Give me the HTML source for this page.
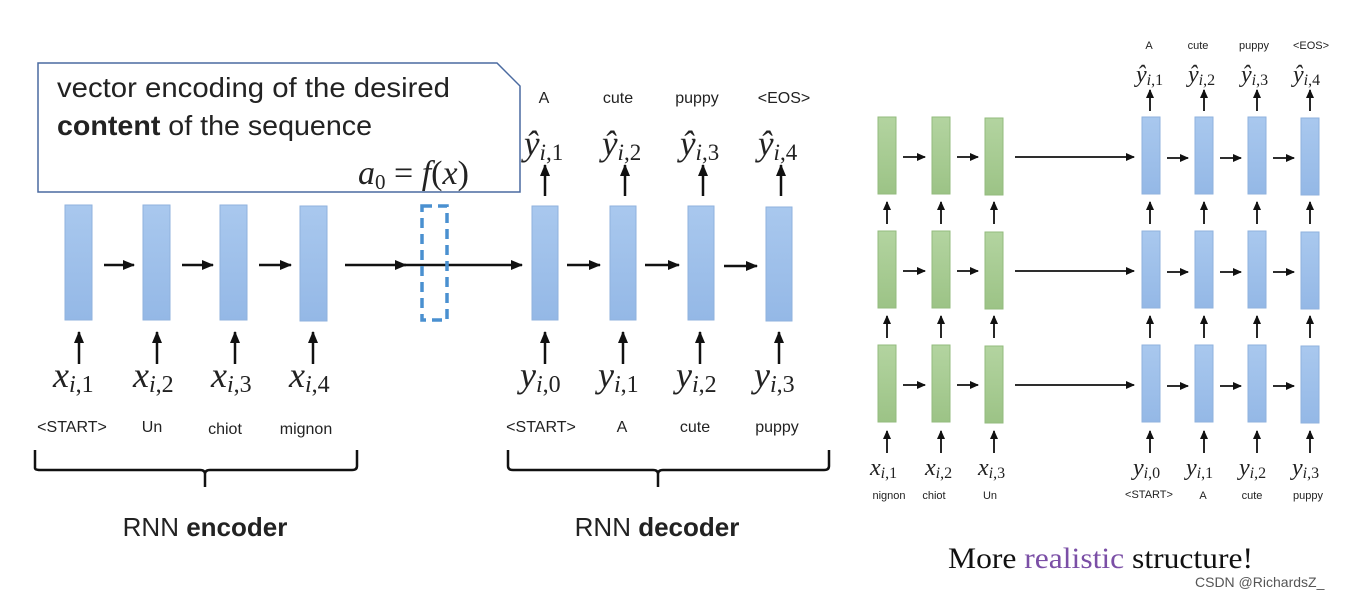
<!DOCTYPE html>
<html><head><meta charset="utf-8"><style>
html,body{margin:0;padding:0;background:#fff;width:1349px;height:598px;overflow:hidden}
svg{display:block}
.s{font-family:"Liberation Sans",sans-serif;fill:#222}
.m{font-family:"Liberation Serif",serif;font-style:italic;fill:#222}
.n{font-style:normal}
</style></head><body>
<svg width="1349" height="598" viewBox="0 0 1349 598" xmlns="http://www.w3.org/2000/svg">
<defs>
<marker id="a" markerUnits="userSpaceOnUse" markerWidth="12" markerHeight="10" refX="11" refY="5" orient="auto"><path d="M0,0 L12,5 L0,10 z" fill="#111"/></marker>
<marker id="b" markerUnits="userSpaceOnUse" markerWidth="9" markerHeight="8" refX="8" refY="4" orient="auto"><path d="M0,0 L9,4 L0,8 z" fill="#111"/></marker>
<linearGradient id="bl" x1="0" y1="0" x2="0" y2="1"><stop offset="0" stop-color="#a9c8ee"/><stop offset="1" stop-color="#94b8e6"/></linearGradient>
<linearGradient id="gr" x1="0" y1="0" x2="0" y2="1"><stop offset="0" stop-color="#b3d4a0"/><stop offset="1" stop-color="#9cc386"/></linearGradient>
</defs>

<!-- callout -->
<path d="M38,63 L497,63 L520,86 L520,192 L38,192 Z" fill="#fff" stroke="#4a6aa0" stroke-width="1.5"/>
<text x="57" y="97" class="s" font-size="28" textLength="393" lengthAdjust="spacingAndGlyphs">vector encoding of the desired</text>
<text x="57" y="135" class="s" font-size="28" textLength="315" lengthAdjust="spacingAndGlyphs"><tspan font-weight="bold">content</tspan> of the sequence</text>
<text x="358" y="184" class="m" font-size="34">a<tspan class="n" font-size="21" dy="5">0</tspan><tspan class="n" dy="-5"> = </tspan>f<tspan class="n">(</tspan>x<tspan class="n">)</tspan></text>

<g stroke="#111" stroke-width="2.5" fill="none">
<line x1="104" y1="265" x2="134" y2="265" marker-end="url(#a)"/>
<line x1="182" y1="265" x2="213" y2="265" marker-end="url(#a)"/>
<line x1="259" y1="265" x2="291" y2="265" marker-end="url(#a)"/>
<line x1="345" y1="265" x2="406" y2="265" marker-end="url(#a)"/>
<line x1="400" y1="265" x2="522" y2="265" marker-end="url(#a)"/>
<line x1="567" y1="265" x2="600" y2="265" marker-end="url(#a)"/>
<line x1="645" y1="265" x2="679" y2="265" marker-end="url(#a)"/>
<line x1="724" y1="266" x2="757" y2="266" marker-end="url(#a)"/>
<line x1="79" y1="364" x2="79" y2="332" marker-end="url(#a)"/>
<line x1="157" y1="364" x2="157" y2="332" marker-end="url(#a)"/>
<line x1="235" y1="364" x2="235" y2="332" marker-end="url(#a)"/>
<line x1="313" y1="364" x2="313" y2="332" marker-end="url(#a)"/>
<line x1="545" y1="364" x2="545" y2="332" marker-end="url(#a)"/>
<line x1="623" y1="364" x2="623" y2="332" marker-end="url(#a)"/>
<line x1="700" y1="364" x2="700" y2="332" marker-end="url(#a)"/>
<line x1="779" y1="364" x2="779" y2="332" marker-end="url(#a)"/>
<line x1="545" y1="196" x2="545" y2="165" marker-end="url(#a)"/>
<line x1="625" y1="196" x2="625" y2="165" marker-end="url(#a)"/>
<line x1="703" y1="196" x2="703" y2="165" marker-end="url(#a)"/>
<line x1="781" y1="196" x2="781" y2="165" marker-end="url(#a)"/>
</g>

<g fill="url(#bl)" stroke="#8fb2de" stroke-width="1">
<rect x="65" y="205" width="27" height="115"/>
<rect x="143" y="205" width="27" height="115"/>
<rect x="220" y="205" width="27" height="115"/>
<rect x="300" y="206" width="27" height="115"/>
<rect x="532" y="206" width="26" height="114"/>
<rect x="610" y="206" width="26" height="114"/>
<rect x="688" y="206" width="26" height="114"/>
<rect x="766" y="207" width="26" height="114"/>
</g>
<rect x="422" y="206" width="25" height="114" fill="none" stroke="#4a90d0" stroke-width="3.5" stroke-dasharray="10,6"/>

<g class="s" font-size="16" text-anchor="middle">
<text x="544" y="103">A</text><text x="618" y="103">cute</text><text x="697" y="103">puppy</text><text x="784" y="103">&lt;EOS&gt;</text>
</g>
<g class="m" font-size="35">
<text x="524" y="155">ŷ<tspan font-size="23" dy="5">i<tspan font-style="normal">,1</tspan></tspan></text>
<text x="602" y="155">ŷ<tspan font-size="23" dy="5">i<tspan font-style="normal">,2</tspan></tspan></text>
<text x="680" y="155">ŷ<tspan font-size="23" dy="5">i<tspan font-style="normal">,3</tspan></tspan></text>
<text x="758" y="155">ŷ<tspan font-size="23" dy="5">i<tspan font-style="normal">,4</tspan></tspan></text>
</g>

<g class="m" font-size="36">
<text x="53" y="387">x<tspan font-size="24" dy="5">i<tspan font-style="normal">,1</tspan></tspan></text>
<text x="133" y="387">x<tspan font-size="24" dy="5">i<tspan font-style="normal">,2</tspan></tspan></text>
<text x="211" y="387">x<tspan font-size="24" dy="5">i<tspan font-style="normal">,3</tspan></tspan></text>
<text x="289" y="387">x<tspan font-size="24" dy="5">i<tspan font-style="normal">,4</tspan></tspan></text>
<text x="520" y="387">y<tspan font-size="24" dy="5">i<tspan font-style="normal">,0</tspan></tspan></text>
<text x="598" y="387">y<tspan font-size="24" dy="5">i<tspan font-style="normal">,1</tspan></tspan></text>
<text x="676" y="387">y<tspan font-size="24" dy="5">i<tspan font-style="normal">,2</tspan></tspan></text>
<text x="754" y="387">y<tspan font-size="24" dy="5">i<tspan font-style="normal">,3</tspan></tspan></text>
</g>
<g class="s" font-size="16" text-anchor="middle">
<text x="72" y="432">&lt;START&gt;</text><text x="152" y="432">Un</text><text x="225" y="434">chiot</text><text x="306" y="434">mignon</text>
<text x="541" y="432">&lt;START&gt;</text><text x="622" y="432">A</text><text x="695" y="432">cute</text><text x="777" y="432">puppy</text>
</g>
<g stroke="#111" stroke-width="2.5" fill="none">
<path d="M35,450 L35,468 Q35,470 40,470 L200,470 Q205,470 205,474 L205,487 M205,474 Q205,470 210,470 L352,470 Q357,470 357,466 L357,450"/>
<path d="M508,450 L508,466 Q508,470 513,470 L653,470 Q658,470 658,474 L658,487 M658,474 Q658,470 663,470 L824,470 Q829,470 829,466 L829,450"/>
</g>
<text x="205" y="536" class="s" font-size="26" text-anchor="middle">RNN <tspan font-weight="bold">encoder</tspan></text>
<text x="657" y="536" class="s" font-size="26" text-anchor="middle">RNN <tspan font-weight="bold">decoder</tspan></text>

<!-- RIGHT -->
<g fill="url(#gr)" stroke="#93bb7e" stroke-width="1">
<rect x="878" y="117" width="18" height="77"/><rect x="932" y="117" width="18" height="77"/><rect x="985" y="118" width="18" height="77"/>
<rect x="878" y="231" width="18" height="77"/><rect x="932" y="231" width="18" height="77"/><rect x="985" y="232" width="18" height="77"/>
<rect x="878" y="345" width="18" height="77"/><rect x="932" y="345" width="18" height="77"/><rect x="985" y="346" width="18" height="77"/>
</g>
<g fill="url(#bl)" stroke="#8fb2de" stroke-width="1">
<rect x="1142" y="117" width="18" height="77"/><rect x="1195" y="117" width="18" height="77"/><rect x="1248" y="117" width="18" height="77"/><rect x="1301" y="118" width="18" height="77"/>
<rect x="1142" y="231" width="18" height="77"/><rect x="1195" y="231" width="18" height="77"/><rect x="1248" y="231" width="18" height="77"/><rect x="1301" y="232" width="18" height="77"/>
<rect x="1142" y="345" width="18" height="77"/><rect x="1195" y="345" width="18" height="77"/><rect x="1248" y="345" width="18" height="77"/><rect x="1301" y="346" width="18" height="77"/>
</g>
<g stroke="#111" stroke-width="1.8" fill="none">
<line x1="903" y1="157" x2="925" y2="157" marker-end="url(#b)"/><line x1="957" y1="157" x2="978" y2="157" marker-end="url(#b)"/><line x1="1015" y1="157" x2="1134" y2="157" marker-end="url(#b)"/>
<line x1="1167" y1="158" x2="1188" y2="158" marker-end="url(#b)"/><line x1="1220" y1="158" x2="1241" y2="158" marker-end="url(#b)"/><line x1="1273" y1="158" x2="1294" y2="158" marker-end="url(#b)"/>
<line x1="903" y1="271" x2="925" y2="271" marker-end="url(#b)"/><line x1="957" y1="271" x2="978" y2="271" marker-end="url(#b)"/><line x1="1015" y1="271" x2="1134" y2="271" marker-end="url(#b)"/>
<line x1="1167" y1="272" x2="1188" y2="272" marker-end="url(#b)"/><line x1="1220" y1="272" x2="1241" y2="272" marker-end="url(#b)"/><line x1="1273" y1="272" x2="1294" y2="272" marker-end="url(#b)"/>
<line x1="903" y1="385" x2="925" y2="385" marker-end="url(#b)"/><line x1="957" y1="385" x2="978" y2="385" marker-end="url(#b)"/><line x1="1015" y1="385" x2="1134" y2="385" marker-end="url(#b)"/>
<line x1="1167" y1="386" x2="1188" y2="386" marker-end="url(#b)"/><line x1="1220" y1="386" x2="1241" y2="386" marker-end="url(#b)"/><line x1="1273" y1="386" x2="1294" y2="386" marker-end="url(#b)"/>
<g id="v">
<line x1="887" y1="224" x2="887" y2="202" marker-end="url(#b)"/><line x1="941" y1="224" x2="941" y2="202" marker-end="url(#b)"/><line x1="994" y1="224" x2="994" y2="202" marker-end="url(#b)"/>
<line x1="1150" y1="224" x2="1150" y2="202" marker-end="url(#b)"/><line x1="1204" y1="224" x2="1204" y2="202" marker-end="url(#b)"/><line x1="1257" y1="224" x2="1257" y2="202" marker-end="url(#b)"/><line x1="1310" y1="224" x2="1310" y2="202" marker-end="url(#b)"/>
</g>
<use href="#v" y="114"/>
<use href="#v" y="229"/>
<line x1="1150" y1="111" x2="1150" y2="90" marker-end="url(#b)"/><line x1="1204" y1="111" x2="1204" y2="90" marker-end="url(#b)"/><line x1="1257" y1="111" x2="1257" y2="90" marker-end="url(#b)"/><line x1="1310" y1="111" x2="1310" y2="90" marker-end="url(#b)"/>
</g>
<g class="s" font-size="11" text-anchor="middle">
<text x="1149" y="49">A</text><text x="1198" y="49">cute</text><text x="1254" y="49">puppy</text><text x="1311" y="49">&lt;EOS&gt;</text>
</g>
<g class="m" font-size="24">
<text x="1136" y="82">ŷ<tspan font-size="16" dy="3">i<tspan font-style="normal">,1</tspan></tspan></text>
<text x="1188" y="82">ŷ<tspan font-size="16" dy="3">i<tspan font-style="normal">,2</tspan></tspan></text>
<text x="1241" y="82">ŷ<tspan font-size="16" dy="3">i<tspan font-style="normal">,3</tspan></tspan></text>
<text x="1293" y="82">ŷ<tspan font-size="16" dy="3">i<tspan font-style="normal">,4</tspan></tspan></text>
<text x="870" y="475">x<tspan font-size="16" dy="3">i<tspan font-style="normal">,1</tspan></tspan></text>
<text x="925" y="475">x<tspan font-size="16" dy="3">i<tspan font-style="normal">,2</tspan></tspan></text>
<text x="978" y="475">x<tspan font-size="16" dy="3">i<tspan font-style="normal">,3</tspan></tspan></text>
<text x="1133" y="475">y<tspan font-size="16" dy="3">i<tspan font-style="normal">,0</tspan></tspan></text>
<text x="1186" y="475">y<tspan font-size="16" dy="3">i<tspan font-style="normal">,1</tspan></tspan></text>
<text x="1239" y="475">y<tspan font-size="16" dy="3">i<tspan font-style="normal">,2</tspan></tspan></text>
<text x="1292" y="475">y<tspan font-size="16" dy="3">i<tspan font-style="normal">,3</tspan></tspan></text>
</g>
<g class="s" font-size="11" text-anchor="middle">
<text x="889" y="499">nignon</text><text x="934" y="499">chiot</text><text x="990" y="499">Un</text>
<text x="1149" y="498">&lt;START&gt;</text><text x="1203" y="499">A</text><text x="1252" y="499">cute</text><text x="1308" y="499">puppy</text>
</g>
<text x="948" y="568" font-family="Liberation Serif,serif" font-size="30" fill="#111" textLength="305" lengthAdjust="spacingAndGlyphs">More <tspan fill="#7b4fa6">realistic</tspan> structure!</text>
<text x="1195" y="587" font-family="Liberation Sans,sans-serif" font-size="14" fill="#555">CSDN @RichardsZ_</text>
</svg>
</body></html>
